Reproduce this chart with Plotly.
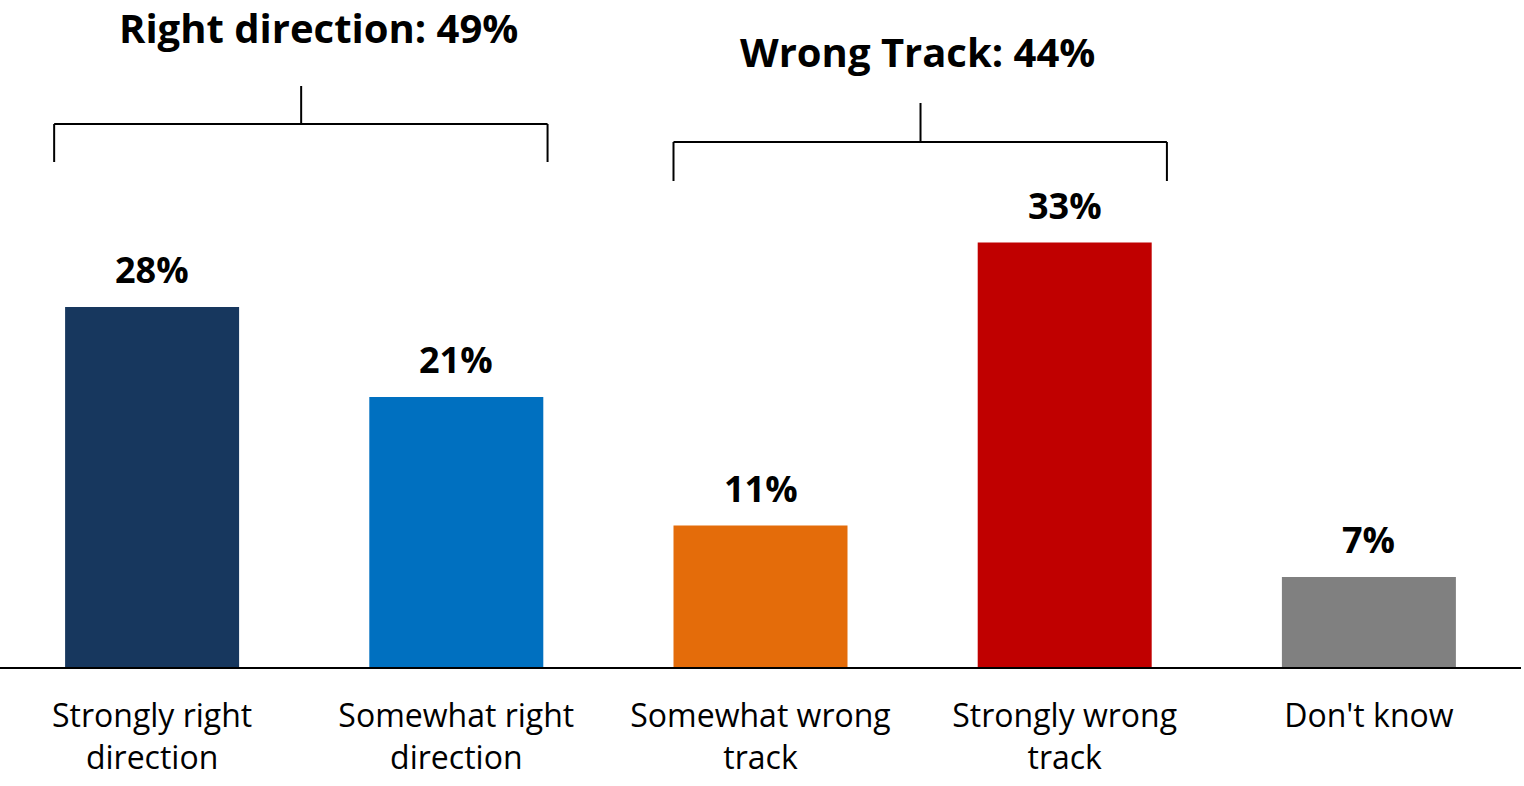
import plotly.graph_objects as go

categories = ["Strongly right<br>direction", "Somewhat right<br>direction",
              "Somewhat wrong<br>track", "Strongly wrong<br>track", "Don't know"]
values = [28, 21, 11, 33, 7]
colors = ["#17375E", "#0070C0", "#E46C0A", "#C00000", "#808080"]
labels = [f"{v}%" for v in values]

group_names = ["Right direction", "Wrong Track"]
group_members = [[0, 1], [2, 3]]

FONT = "Open Sans, Lato, DejaVu Sans, sans-serif"
px_per_unit = 12.86
plot_h = 667
y_max = plot_h / px_per_unit

def py(pix):
    return (plot_h - pix) / px_per_unit

fig = go.Figure()
fig.add_trace(go.Bar(
    x=list(range(len(categories))), y=values,
    marker=dict(color=colors, line=dict(width=0)),
    hoverinfo="skip",
))

for i, (v, lab) in enumerate(zip(values, labels)):
    fig.add_annotation(x=i, y=v, text=f"<b>{lab}</b>", showarrow=False,
                       yanchor="bottom", yshift=11,
                       font=dict(family=FONT, size=36, color="black"))

# bracket geometry (in category units / pixel rows)
brackets = [
    dict(x0=-0.322, x1=1.30, xc=0.49, yh=124, yb=162, yt=86, tx=0.546, ty=27),
    dict(x0=1.714, x1=3.336, xc=2.526, yh=142, yb=181, yt=103, tx=2.516, ty=51),
]
shapes = []
for b, name, mem in zip(brackets, group_names, group_members):
    ln = dict(color="black", width=2)
    shapes.append(dict(type="line", xref="x", yref="y", x0=b["x0"], x1=b["x1"],
                       y0=py(b["yh"]), y1=py(b["yh"]), line=ln))
    shapes.append(dict(type="line", xref="x", yref="y", x0=b["x0"], x1=b["x0"],
                       y0=py(b["yh"]), y1=py(b["yb"]), line=ln))
    shapes.append(dict(type="line", xref="x", yref="y", x0=b["x1"], x1=b["x1"],
                       y0=py(b["yh"]), y1=py(b["yb"]), line=ln))
    shapes.append(dict(type="line", xref="x", yref="y", x0=b["xc"], x1=b["xc"],
                       y0=py(b["yh"]), y1=py(b["yt"]), line=ln))
    total = sum(values[k] for k in mem)
    fig.add_annotation(x=b["tx"], y=py(b["ty"]), text=f"<b>{name}: {total}%</b>",
                       showarrow=False, yanchor="middle",
                       font=dict(family=FONT, size=40, color="black"))

fig.update_layout(
    width=1524, height=786,
    margin=dict(l=0, r=3, t=0, b=119),
    plot_bgcolor="white", paper_bgcolor="white",
    bargap=0.428, showlegend=False, shapes=shapes,
    xaxis=dict(tickmode="array", tickvals=list(range(len(categories))),
               ticktext=categories, range=[-0.5, 4.5],
               showline=True, linecolor="black", linewidth=2,
               ticks="", showgrid=False, zeroline=False,
               ticklabelstandoff=20,
               tickfont=dict(family=FONT, size=32, color="black")),
    yaxis=dict(range=[0, y_max], visible=False, showgrid=False, zeroline=False),
)

fig.write_html("out.html", config={"displayModeBar": False},
               post_script="document.body.style.margin='0';document.body.style.overflow='hidden';")
